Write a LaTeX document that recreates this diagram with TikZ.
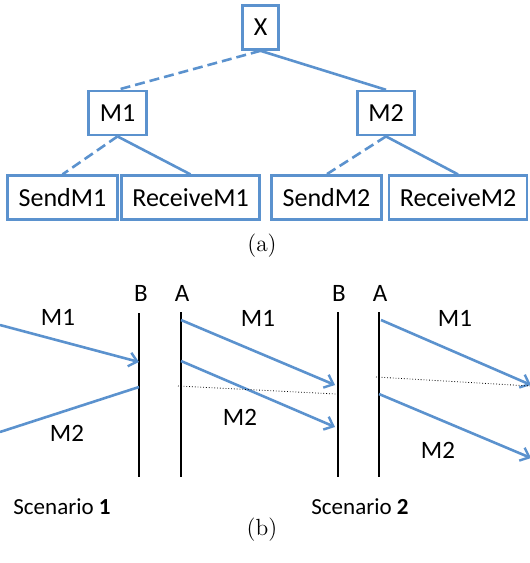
\documentclass[tikz,border=0pt]{standalone}
\usepackage{fontspec}
\newfontfamily\calibri{Carlito}
\usetikzlibrary{positioning,arrows.meta}
\definecolor{msgblue}{RGB}{91,146,206}
\tikzset{
  box/.style={draw=msgblue, line width=1.3pt, minimum height=22pt, inner xsep=5.5pt,
    font=\calibri\fontsize{13}{15}\selectfont},
  link/.style={msgblue, line width=1.3pt},
  weak/.style={link, dash pattern=on 5pt off 2.5pt},
  msg/.style={link, -{Straight Barb[length=4pt,width=7pt,line width=1.2pt]}},
  life/.style={black, line width=1pt},
  lbl/.style={font=\calibri\fontsize{12.5}{15}\selectfont},
  scen/.style={font=\calibri\fontsize{11.5}{14}\selectfont},
  cut/.style={black, densely dotted, line width=0.4pt},
  sub/.style={font=\fontsize{11.7}{14}\selectfont},
}

\begin{document}
\begin{tikzpicture}[x=0.5pt, y=-0.5pt]
  \useasboundingbox (0,0) rectangle (530,563);

  % (a) message tree
  \node[box, minimum width=18pt] (x) at (260.5,27.5) {X};
  \node[box, below=19.5pt of x, xshift=-71.5pt] (m1) {M1};
  \node[box, below=19.5pt of x, xshift=62.75pt] (m2) {M2};
  \node[box, below=19pt of m1, xshift=-27.5pt] (send1) {SendM1};
  \node[box, below=19pt of m1, xshift=36.5pt] (recv1) {ReceiveM1};
  \node[box, below=19pt of m2, xshift=-29.75pt] (send2) {SendM2};
  \node[box, below=19pt of m2, xshift=36pt] (recv2) {ReceiveM2};
  \draw[weak] (x.south) -- (m1.north);
  \draw[link] (x.south) -- (m2.north);
  \draw[weak] (m1.south) -- (send1.north);
  \draw[link] (m1.south) -- (recv1.north);
  \draw[weak] (m2.south) -- (send2.north);
  \draw[link] (m2.south) -- (recv2.north);
  \node[sub] (capa) at (262,246) {(a)};

  % (b) lifelines
  \node[lbl] (b1) at (141,293) {B};
  \node[lbl] (a1) at (182,293) {A};
  \node[lbl] (b2) at (339,293) {B};
  \node[lbl] (a2) at (380,293) {A};
  \coordinate (b1top) at (139,313); \coordinate (b1bot) at (139,477);
  \coordinate (a1top) at (181,312); \coordinate (a1bot) at (181,477);
  \coordinate (b2top) at (338,312); \coordinate (b2bot) at (338,477);
  \coordinate (a2top) at (379,312); \coordinate (a2bot) at (379,477);
  \draw[life] (b1top) -- (b1bot);
  \draw[life] (a1top) -- (a1bot);
  \draw[life] (b2top) -- (b2bot);
  \draw[life] (a2top) -- (a2bot);

  % scenario 1: messages
  \coordinate (in1) at (0,325);   \coordinate (got1) at (139,362);
  \coordinate (in2) at (0,432);   \coordinate (got2) at (139,387);
  \draw[msg] (in1) -- (got1);
  \draw[link] (in2) -- (got2);
  \node[lbl] (l11) at (58,317) {M1};
  \node[lbl] (l12) at (67,433) {M2};
  \coordinate (out1) at (181,320); \coordinate (end1) at (335,385);
  \coordinate (out2) at (181,361); \coordinate (end2) at (335,427);
  \draw[msg] (out1) -- (end1);
  \draw[msg] (out2) -- (end2);
  \coordinate (cut1a) at (178,386); \coordinate (cut1b) at (336,394);
  \draw[cut] (cut1a) -- (cut1b);
  \node[lbl] (l21) at (258,318) {M1};
  \node[lbl] (l22) at (240,417) {M2};

  % scenario 2: messages
  \coordinate (out3) at (381,320); \coordinate (end3) at (531,385);
  \coordinate (out4) at (379,394); \coordinate (end4) at (531,458);
  \draw[msg] (out3) -- (end3);
  \draw[msg] (out4) -- (end4);
  \coordinate (cut2a) at (376,377); \coordinate (cut2b) at (530,386);
  \draw[cut] (cut2a) -- (cut2b);
  \node[lbl] (l31) at (455,318) {M1};
  \node[lbl] (l32) at (438,450) {M2};

  \node[scen] (sc1) at (62,507) {Scenario \textbf{1}};
  \node[scen] (sc2) at (360,507) {Scenario \textbf{2}};
  \node[sub] (capb) at (262,530) {(b)};
\end{tikzpicture}
\end{document}
